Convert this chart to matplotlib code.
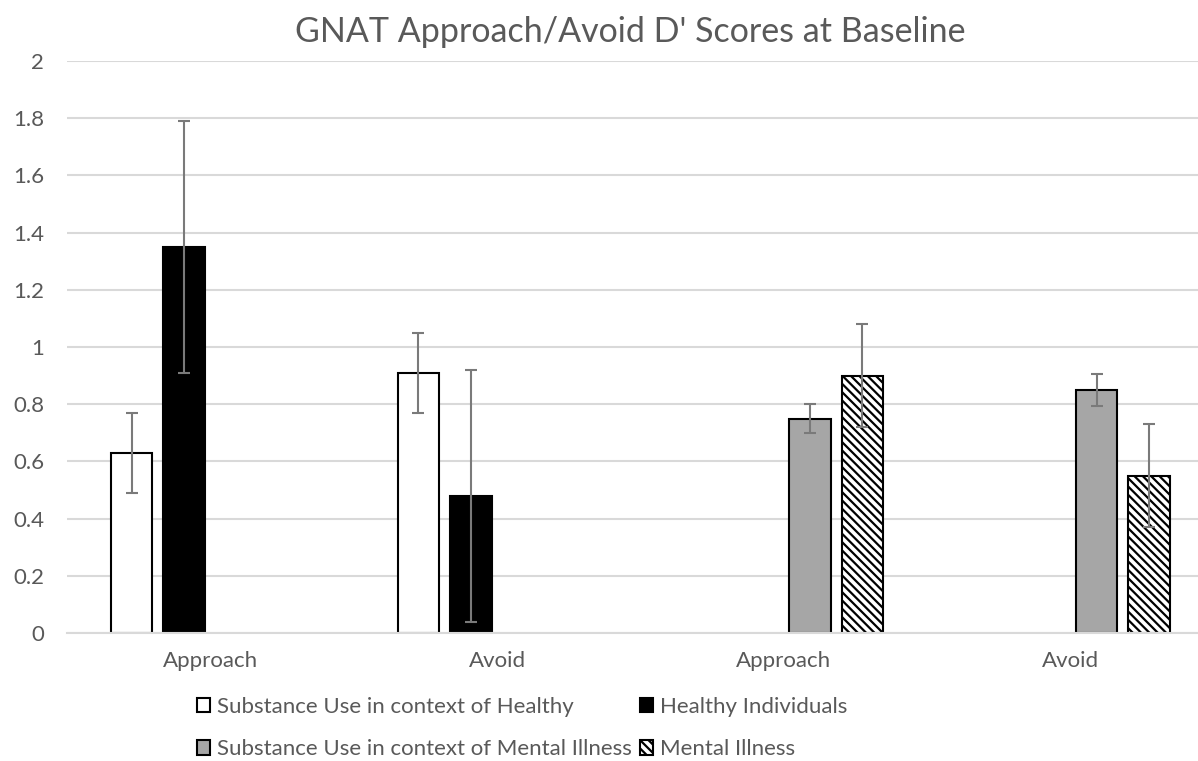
import matplotlib
matplotlib.use("Agg")
import matplotlib.pyplot as plt
import numpy as np

plt.rcParams['font.family'] = ['Lato', 'DejaVu Sans']
plt.rcParams['hatch.linewidth'] = 1.6

categories = ["Approach", "Avoid", "Approach", "Avoid"]

series_names = [
    "Substance Use in context of Healthy",
    "Healthy Individuals",
    "Substance Use in context of Mental Illness",
    "Mental Illness",
]
su_healthy = [0.63, 0.91, np.nan, np.nan]
healthy = [1.35, 0.48, np.nan, np.nan]
su_mental = [np.nan, np.nan, 0.75, 0.85]
mental = [np.nan, np.nan, 0.90, 0.55]

su_healthy_err = [0.14, 0.14, np.nan, np.nan]
healthy_err = [0.44, 0.44, np.nan, np.nan]
su_mental_err = [np.nan, np.nan, 0.05, 0.055]
mental_err = [np.nan, np.nan, 0.18, 0.18]

values = [su_healthy, healthy, su_mental, mental]
errors = [su_healthy_err, healthy_err, su_mental_err, mental_err]
styles = [
    dict(color="white", hatch=None),
    dict(color="black", hatch=None),
    dict(color="#a6a6a6", hatch=None),
    dict(color="white", hatch="\\\\\\\\"),
]

fig = plt.figure(figsize=(11.98, 7.61), dpi=100)
W, H = 1198, 761
# plot area: x from 67px, 286.7px per category; y=0 at 633px, y=2 at 61px
ax = fig.add_axes([67 / W, (H - 633) / H, 4 * 286.7 / W, 572 / H])

x = np.arange(len(categories))
step = 0.183
width = 0.145
handles = []
for i, (vals, errs, st) in enumerate(zip(values, errors, styles)):
    pos = x + (i - 1.5) * step
    b = ax.bar(pos, vals, width, color=st["color"], hatch=st["hatch"],
               edgecolor="black", linewidth=1.5, zorder=2, label=series_names[i])
    handles.append(b)
    ax.errorbar(pos, vals, yerr=errs, fmt="none", ecolor="#7a7a7a",
                elinewidth=1.5, capsize=4.5, capthick=1.5, zorder=3)

ax.set_xlim(-0.5, len(categories) - 0.5)
ax.set_ylim(0, 2)
ax.set_yticks(np.arange(0, 2.01, 0.2))
ax.set_yticklabels(["0", "0.2", "0.4", "0.6", "0.8", "1", "1.2", "1.4", "1.6", "1.8", "2"])
ax.set_xticks(x)
ax.set_xticklabels(categories)
ax.grid(axis="y", color="#d9d9d9", linewidth=1.5, zorder=0)
ax.set_axisbelow(True)
for s in ["top", "right", "left"]:
    ax.spines[s].set_visible(False)
ax.spines["bottom"].set_color("#d9d9d9")
ax.spines["bottom"].set_linewidth(1.5)
ax.tick_params(axis="both", length=0, labelsize=16, colors="#595959")
ax.tick_params(axis="y", pad=16.5)
ax.tick_params(axis="x", pad=13)

fig.text(630 / W, 1 - 32 / H, "GNAT Approach/Avoid D' Scores at Baseline",
         ha="center", va="center", fontsize=24.5, color="#595959")

leg = fig.legend([handles[0], handles[2], handles[1], handles[3]],
                 [series_names[0], series_names[2], series_names[1], series_names[3]],
                 ncol=2, loc="upper left", bbox_to_anchor=(186 / W, 1 - 686 / H),
                 frameon=False, fontsize=16, handlelength=0.6, handleheight=0.6,
                 handletextpad=0.3, columnspacing=0.35, labelspacing=1.0,
                 borderpad=0, labelcolor="#595959")

fig.savefig("out.png", dpi=100)
